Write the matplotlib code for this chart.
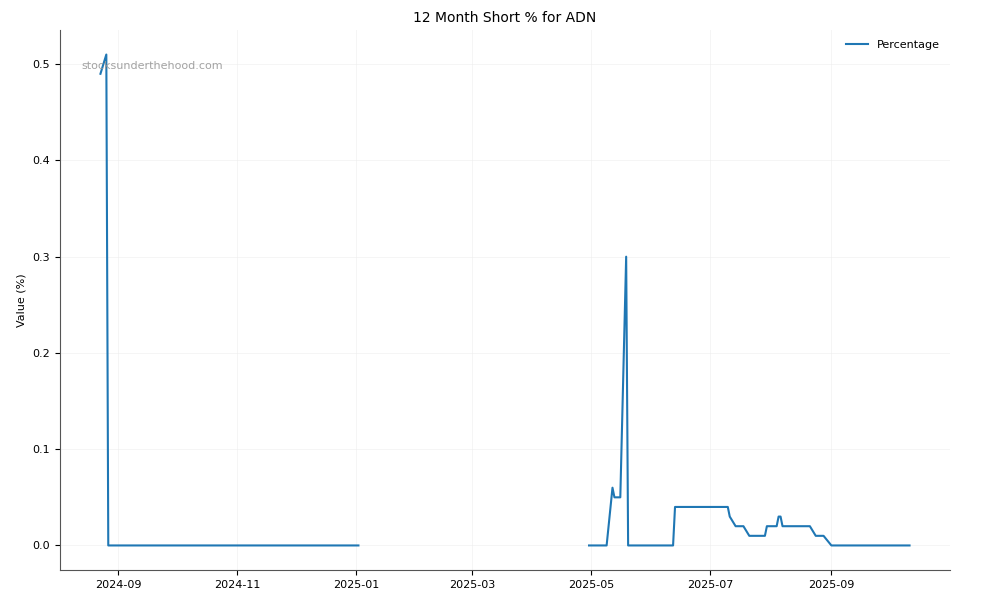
import matplotlib
matplotlib.use("Agg")
import matplotlib.pyplot as plt
import matplotlib.dates as mdates
import pandas as pd
import numpy as np

# fechas y valores
fechas = ["2024-08-23", "2024-08-26", "2024-08-27", "2025-01-02",
          "2025-02-15",
          "2025-04-30", "2025-05-09", "2025-05-12", "2025-05-13", "2025-05-16",
          "2025-05-19", "2025-05-20", "2025-06-12", "2025-06-13", "2025-07-10",
          "2025-07-11", "2025-07-14", "2025-07-18", "2025-07-21", "2025-07-29",
          "2025-07-30", "2025-08-04", "2025-08-05", "2025-08-06", "2025-08-07",
          "2025-08-21", "2025-08-24", "2025-08-28", "2025-09-01", "2025-10-11"]
valores = [0.49, 0.51, 0.0, 0.0,
           np.nan,
           0.0, 0.0, 0.06, 0.05, 0.05,
           0.30, 0.0, 0.0, 0.04, 0.04,
           0.03, 0.02, 0.02, 0.01, 0.01,
           0.02, 0.02, 0.03, 0.03, 0.02,
           0.02, 0.01, 0.01, 0.0, 0.0]

fechas = pd.to_datetime(fechas)

fig, ax = plt.subplots(figsize=(10, 6), dpi=100)
ax.plot(fechas, valores, color="#1f77b4", linewidth=1.5, label="Percentage")

ax.set_title("12 Month Short % for ADN", fontsize=10)
ax.set_ylabel("Value (%)", fontsize=8)
ax.tick_params(labelsize=8)
ax.xaxis.set_major_locator(mdates.MonthLocator(bymonth=[1, 3, 5, 7, 9, 11]))
ax.xaxis.set_major_formatter(mdates.DateFormatter("%Y-%m"))
ax.grid(True, color="#eeeeee", linewidth=0.6, alpha=0.7)
ax.spines["top"].set_visible(False)
ax.spines["right"].set_visible(False)
ax.spines["left"].set_color("#555555")
ax.spines["bottom"].set_color("#555555")

ax.text(0.024, 0.927, "stocksunderthehood.com", transform=ax.transAxes,
        fontsize=8, color="#999999", alpha=0.9)
ax.legend(loc="upper right", frameon=False, fontsize=8)

plt.subplots_adjust(left=0.06, right=0.95, top=0.95, bottom=0.05)
plt.savefig("out.png")
plt.close()
